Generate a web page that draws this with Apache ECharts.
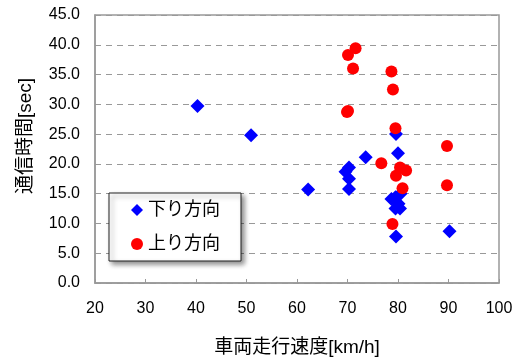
<!DOCTYPE html>
<html><head><meta charset="utf-8">
<script src="https://cdn.jsdelivr.net/npm/echarts@6/dist/echarts.min.js"></script>
<style>html,body{margin:0;padding:0;background:#fff}#c{width:522px;height:362px}</style>
</head><body><div id="c"></div>
<script>
const seriesNames = ['下り方向', '上り方向'];
const xAxisName = '車両走行速度[km/h]';
const yAxisName = '通信時間[sec]';
const downSpeed = [40.3, 50.9, 62.2, 70.3, 69.6, 70.3, 70.3, 73.6, 79.6, 80.0, 80.5, 78.7, 79.5, 80.1, 79.5, 80.4, 79.6, 90.2];
const downTime  = [29.7, 24.8, 15.7, 19.4, 18.7, 17.5, 15.8, 21.1, 25.0, 21.8, 15.0, 14.1, 14.4, 13.3, 12.5, 12.5, 7.8, 8.7];
const upSpeed = [71.6, 70.1, 71.1, 78.7, 79.0, 70.1, 69.9, 79.5, 89.7, 76.7, 80.4, 81.6, 79.6, 80.9, 89.7, 78.9];
const upTime  = [39.4, 38.3, 36.0, 35.5, 32.5, 28.9, 28.7, 26.0, 23.0, 20.1, 19.4, 18.9, 18.0, 15.9, 16.4, 9.9];

const zip = (a, b) => a.map((v, i) => [v, b[i]]);
const FONT = "'Liberation Sans', 'Noto Sans CJK JP', sans-serif";
const chart = echarts.init(document.getElementById('c'), null, {renderer: 'canvas'});
chart.setOption({
  animation: false,
  textStyle: {fontFamily: FONT, color: '#000'},
  grid: {left: 95, right: 23, top: 15, bottom: 78, show: true, borderColor: '#999', borderWidth: 1.5, backgroundColor: 'transparent'},
  legend: {
    orient: 'vertical', left: 109, top: 193,
    padding: [8, 21, 8, 22], itemGap: 16, itemWidth: 12, itemHeight: 12,
    backgroundColor: '#fff', borderColor: '#222', borderWidth: 1,
    shadowColor: 'rgba(0,0,0,0.45)', shadowBlur: 5, shadowOffsetX: 3, shadowOffsetY: 3,
    textStyle: {fontSize: 18, color: '#000', fontFamily: FONT},
    data: [{name: seriesNames[0], icon: 'diamond'}, {name: seriesNames[1], icon: 'circle'}]
  },
  xAxis: {
    type: 'value', min: 20, max: 100, interval: 10,
    name: xAxisName, nameLocation: 'middle', nameGap: 55,
    nameTextStyle: {fontSize: 19, color: '#000', fontFamily: FONT},
    axisLine: {show: true, lineStyle: {color: '#999', width: 1.5}},
    axisTick: {show: true, inside: true, length: 4, lineStyle: {color: '#999'}},
    axisLabel: {fontSize: 16, color: '#000', margin: 18, fontFamily: FONT},
    splitLine: {show: false}
  },
  yAxis: {
    type: 'value', min: 0, max: 45, interval: 5,
    name: yAxisName, nameLocation: 'middle', nameGap: 60, nameRotate: 90,
    nameTextStyle: {fontSize: 19, color: '#000', fontFamily: FONT, padding: [0, 0, 0, 26]},
    axisLine: {show: true, lineStyle: {color: '#999', width: 1.5}},
    axisTick: {show: true, inside: true, length: 4, lineStyle: {color: '#999'}},
    axisLabel: {fontSize: 16, color: '#000', margin: 15, fontFamily: FONT, formatter: v => v.toFixed(1)},
    splitLine: {show: true, lineStyle: {color: '#999', type: [6, 5], width: 1}}
  },
  series: [
    {name: seriesNames[0], type: 'scatter', symbol: 'diamond', symbolSize: 14, itemStyle: {color: '#0000ff', opacity: 1}, data: zip(downSpeed, downTime)},
    {name: seriesNames[1], type: 'scatter', symbol: 'circle', symbolSize: 12, itemStyle: {color: '#ff0000', opacity: 1}, data: zip(upSpeed, upTime)}
  ]
});
</script></body></html>
